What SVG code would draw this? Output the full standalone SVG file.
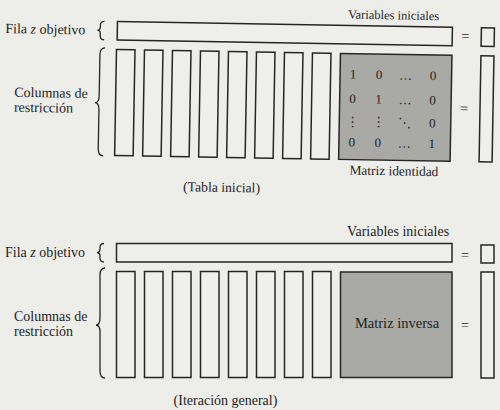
<svg xmlns="http://www.w3.org/2000/svg" width="500" height="410" viewBox="0 0 500 410">
<style>
text{font-family:"Liberation Serif","Times New Roman",serif;fill:#1e1e1e;font-size:14px}
.box{fill:#efefec;stroke:#262626;stroke-width:1.5}
.mat{fill:#a9a9a6;stroke:#262626;stroke-width:1.5}
.br{fill:none;stroke:#262626;stroke-width:1.3}
.c{text-anchor:middle}
.m{font-size:13px;text-anchor:middle}
</style>
<rect width="500" height="410" fill="#ededea"/>

<g id="tabla-inicial" transform="rotate(1 117 49)">
  <g id="t-braces">
    <path class="br" d="M104,21.5 Q100,21.5 100,25.5 L100,27 Q100,30.5 97,30.5 Q100,30.5 100,34 L100,36 Q100,40 104,40"/>
    <path class="br" d="M105,48 Q100,48 100,55 L100,96 Q100,103 96,103 Q100,103 100,110 L100,149 Q100,156 105,156"/>
  </g>
  <g id="t-fila-z"><rect class="box" x="117" y="21.5" width="335" height="18.5"/></g>
  <g id="t-columnas">
    <rect class="box" x="116.5" y="49.5" width="18.5" height="106"/>
    <rect class="box" x="144.5" y="49.5" width="18.5" height="106"/>
    <rect class="box" x="172.5" y="49.5" width="18.5" height="106"/>
    <rect class="box" x="200.5" y="49.5" width="18.5" height="106"/>
    <rect class="box" x="228.5" y="49.5" width="18.5" height="106"/>
    <rect class="box" x="256.5" y="49.5" width="18.5" height="106"/>
    <rect class="box" x="284.5" y="49.5" width="18.5" height="106"/>
    <rect class="box" x="312.5" y="49.5" width="18.5" height="106"/>
  </g>
  <g id="t-identidad">
    <rect class="mat" x="340.5" y="49.5" width="111.5" height="106"/>
    <text class="m" x="353.5" y="74.5">1</text><text class="m" x="379.5" y="74.5">0</text><text class="m" x="406" y="74.5">…</text><text class="m" x="433.5" y="74.5">0</text>
    <text class="m" x="353.5" y="99">0</text><text class="m" x="379.5" y="99">1</text><text class="m" x="406" y="99">…</text><text class="m" x="433.5" y="99">0</text>
    <text class="m" x="353.5" y="122">⋮</text><text class="m" x="379.5" y="122">⋮</text><text class="m" x="406" y="122">⋱</text><text class="m" x="433.5" y="122">0</text>
    <text class="m" x="353.5" y="142.5">0</text><text class="m" x="379.5" y="142.5">0</text><text class="m" x="406" y="142.5">…</text><text class="m" x="433.5" y="142.5">1</text>
  </g>
  <g id="t-rhs">
    <text class="c" x="465" y="34.5">=</text>
    <rect class="box" x="481" y="21.5" width="13" height="18.5"/>
    <text class="c" x="465" y="107">=</text>
    <rect class="box" x="481" y="49.5" width="13" height="106"/>
  </g>
  <g id="t-labels">
    <text x="5" y="35">Fila <tspan font-style="italic">z</tspan> objetivo</text>
    <text x="15" y="98.5">Columnas de</text>
    <text x="15" y="113.5">restricción</text>
    <text x="393" y="14.5" class="c" style="font-size:12.5px">Variables iniciales</text>
    <text x="396" y="170.5" class="c" style="font-size:13.4px">Matriz identidad</text>
    <text x="224" y="190" class="c" style="font-size:13.7px">(Tabla inicial)</text>
  </g>
</g>

<g id="iteracion-general">
  <g id="g-braces">
    <path class="br" d="M104,243.5 Q100,243.5 100,247.5 L100,249 Q100,252.5 97,252.5 Q100,252.5 100,256 L100,258 Q100,262 104,262"/>
    <path class="br" d="M105,268 Q100,268 100,275 L100,318 Q100,325 96,325 Q100,325 100,332 L100,371 Q100,378 105,378"/>
  </g>
  <g id="g-fila-z"><rect class="box" x="116.5" y="243.5" width="335.5" height="18.5"/></g>
  <g id="g-columnas">
    <rect class="box" x="116.5" y="271.5" width="18.5" height="106"/>
    <rect class="box" x="144.5" y="271.5" width="18.5" height="106"/>
    <rect class="box" x="172.5" y="271.5" width="18.5" height="106"/>
    <rect class="box" x="200.5" y="271.5" width="18.5" height="106"/>
    <rect class="box" x="228.5" y="271.5" width="18.5" height="106"/>
    <rect class="box" x="256.5" y="271.5" width="18.5" height="106"/>
    <rect class="box" x="284.5" y="271.5" width="18.5" height="106"/>
    <rect class="box" x="312.5" y="271.5" width="18.5" height="106"/>
  </g>
  <g id="g-inversa">
    <rect class="mat" x="340.5" y="272" width="111.5" height="105.5"/>
    <text x="397" y="328" class="c" style="font-size:14.5px">Matriz inversa</text>
  </g>
  <g id="g-rhs">
    <text class="c" x="465" y="259.5">=</text>
    <rect class="box" x="481" y="245" width="13" height="18"/>
    <text class="c" x="465" y="330">=</text>
    <rect class="box" x="481" y="272" width="13" height="106"/>
  </g>
  <g id="g-labels">
    <text x="5" y="257">Fila <tspan font-style="italic">z</tspan> objetivo</text>
    <text x="14" y="320.5">Columnas de</text>
    <text x="14" y="336">restricción</text>
    <text x="398" y="235.5" class="c">Variables iniciales</text>
    <text x="225.5" y="405" class="c">(Iteración general)</text>
  </g>
</g>
</svg>
